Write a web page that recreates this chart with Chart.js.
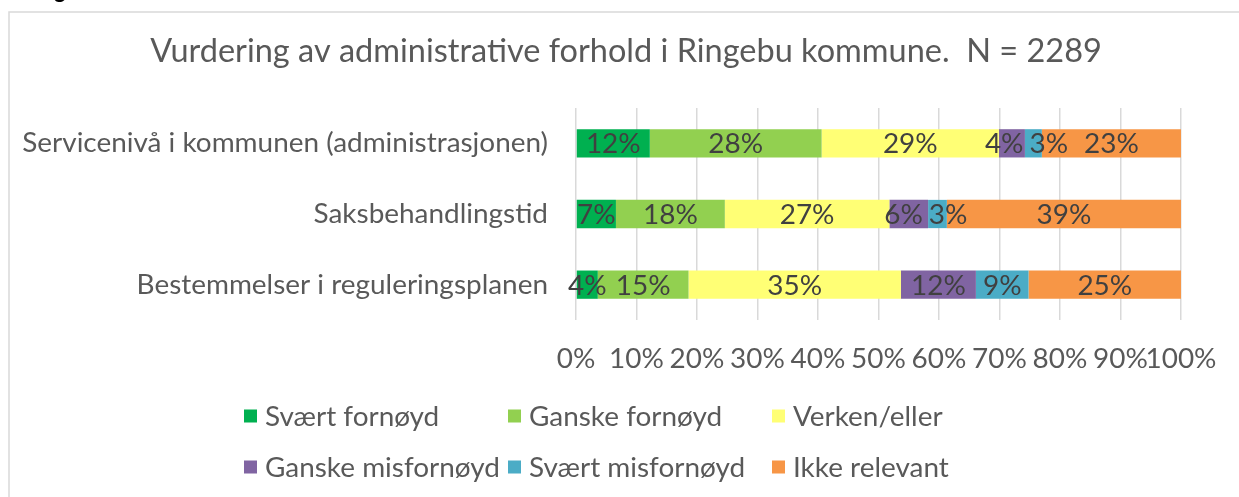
<!DOCTYPE html>
<html><head><meta charset="utf-8">
<script src="https://cdn.jsdelivr.net/npm/chart.js@4.4.0/dist/chart.umd.min.js"></script>
<style>html,body{margin:0;padding:0;background:#fff;}#wrap{width:1239px;height:497px;position:relative;}</style>
</head><body><div id="wrap"><canvas id="c" width="1239" height="497"></canvas></div>
<script>
const titleText = 'Vurdering av administrative forhold i Ringebu kommune.  N = 2289';
const categories = ['Servicenivå i kommunen (administrasjonen)', 'Saksbehandlingstid', 'Bestemmelser i reguleringsplanen'];
const seriesNames = ['Svært fornøyd', 'Ganske fornøyd', 'Verken/eller', 'Ganske misfornøyd', 'Svært misfornøyd', 'Ikke relevant'];
const svaertFornoyd    = [12.2, 6.6, 3.6];
const ganskeFornoyd    = [28.4, 18.0, 15.0];
const verkenEller      = [29.3, 27.2, 35.1];
const ganskeMisfornoyd = [4.3, 6.4, 12.4];
const svaertMisfornoyd = [2.8, 3.1, 8.7];
const ikkeRelevant     = [23.0, 38.7, 25.2];
const xTickValues = [0, 10, 20, 30, 40, 50, 60, 70, 80, 90, 100];
const seriesColors = ['#00B050', '#92D050', '#FFFF75', '#8064A2', '#4BACC6', '#F79646'];

const FAMILY = 'Lato, "Open Sans", sans-serif';
function fitSize(text, target, weight) {
  const cv = document.createElement('canvas').getContext('2d');
  cv.font = (weight || '') + ' 100px ' + FAMILY;
  return 100 * target / cv.measureText(text).width;
}
const titleSize = fitSize(titleText, 952);
const labelSize = fitSize(categories[0], 526);

const seriesData = [svaertFornoyd, ganskeFornoyd, verkenEller, ganskeMisfornoyd, svaertMisfornoyd, ikkeRelevant];

const frame = {
  id: 'frame',
  beforeDraw(chart) {
    const ctx = chart.ctx;
    ctx.save();
    ctx.strokeStyle = '#D9D9D9';
    ctx.lineWidth = 1.5;
    ctx.beginPath();
    ctx.moveTo(9, 497); ctx.lineTo(9, 12); ctx.lineTo(1239, 12);
    ctx.stroke();
    ctx.fillStyle = '#000';
    ctx.font = 'bold 22px ' + FAMILY;
    ctx.textBaseline = 'alphabetic';
    ctx.fillText('g', 54, -2);
    ctx.fillStyle = '#595959';
    ctx.font = titleSize + 'px ' + FAMILY;
    ctx.textAlign = 'center';
    ctx.textBaseline = 'middle';
    ctx.fillText(titleText, 626, 52);
    ctx.restore();
  }
};

const dataLabels = {
  id: 'dataLabels',
  afterDatasetsDraw(chart) {
    const ctx = chart.ctx;
    ctx.save();
    ctx.font = labelSize + 'px ' + FAMILY;
    ctx.fillStyle = '#404040';
    ctx.textAlign = 'center';
    ctx.textBaseline = 'middle';
    const n = chart.data.labels.length;
    const gap = 6;
    for (let j = 0; j < n; j++) {
      const items = chart.data.datasets.map((ds, i) => {
        const el = chart.getDatasetMeta(i).data[j];
        const txt = Math.round(ds.data[j]) + '%';
        return { txt, w: ctx.measureText(txt).width, cx: (el.x + el.base) / 2, y: el.y + 1 };
      });
      for (let k = 1; k < items.length; k++) {
        const a = items[k - 1], b = items[k];
        const overlap = (a.cx + a.w / 2 + gap) - (b.cx - b.w / 2);
        if (overlap > 0) {
          const prevLeftRoom = k >= 2 ? (a.cx - a.w / 2) - (items[k - 2].cx + items[k - 2].w / 2 + gap) : 0;
          const shiftA = Math.max(0, Math.min(overlap / 3, prevLeftRoom));
          a.cx -= shiftA;
          b.cx += overlap - shiftA;
        }
      }
      items.forEach(it => ctx.fillText(it.txt, it.cx, it.y));
    }
    ctx.restore();
  }
};

const gridLegend = {
  id: 'gridLegend',
  afterDraw(chart) {
    const ctx = chart.ctx;
    const colX = [244, 508, 772];
    const rowY = [416, 467];
    const sq = 13;
    ctx.save();
    ctx.font = labelSize + 'px ' + FAMILY;
    ctx.textBaseline = 'middle';
    ctx.textAlign = 'left';
    chart.data.datasets.forEach((ds, i) => {
      const x = colX[i % 3], y = rowY[Math.floor(i / 3)];
      ctx.fillStyle = ds.backgroundColor;
      ctx.fillRect(x, y - sq / 2, sq, sq);
      ctx.fillStyle = '#595959';
      ctx.fillText(ds.label, x + 21, y + 1);
    });
    ctx.restore();
  }
};

new Chart(document.getElementById('c'), {
  type: 'bar',
  data: {
    labels: categories,
    datasets: seriesNames.map((name, i) => ({
      label: name,
      data: seriesData[i],
      backgroundColor: seriesColors[i],
      borderWidth: 0,
      barPercentage: 0.4,
      categoryPercentage: 1.0
    }))
  },
  options: {
    indexAxis: 'y',
    responsive: false,
    animation: false,
    layout: { padding: { left: 0, right: 58, top: 108, bottom: 0 } },
    plugins: {
      legend: { display: false },
      tooltip: { enabled: false },
      title: { display: false }
    },
    scales: {
      x: {
        stacked: true,
        min: 0, max: 100,
        afterBuildTicks(scale) { scale.ticks = xTickValues.map(v => ({ value: v })); },
        afterFit(scale) { scale.height = 177; },
        ticks: {
          callback: v => v + '%',
          color: '#595959',
          font: { family: FAMILY, size: labelSize },
          padding: 22,
          maxRotation: 0,
          autoSkip: false
        },
        grid: { color: '#D9D9D9', lineWidth: 1.5, drawTicks: false },
        border: { display: false }
      },
      y: {
        stacked: true,
        afterFit(scale) { scale.width = 576; },
        ticks: {
          color: '#595959',
          font: { family: FAMILY, size: labelSize },
          padding: 28
        },
        grid: { display: false, drawTicks: false },
        border: { display: false }
      }
    }
  },
  plugins: [frame, dataLabels, gridLegend]
});
</script>
</body></html>
